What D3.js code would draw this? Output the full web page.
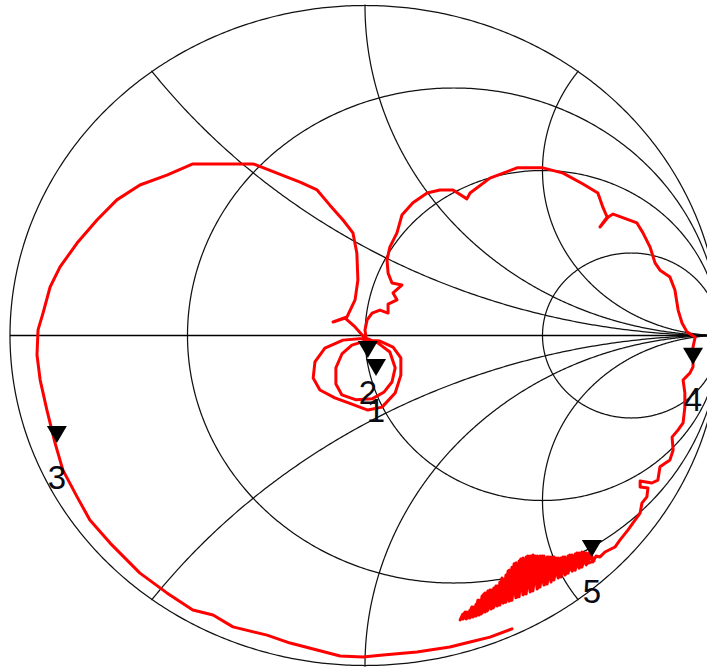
<!DOCTYPE html>
<html>
<head>
<meta charset="utf-8">
<script src="https://cdn.jsdelivr.net/npm/d3@7"></script>
<style>
  html, body { margin: 0; padding: 0; background: #fff; }
  svg { display: block; }
</style>
</head>
<body>
<svg id="chart" width="707" height="668"></svg>
<script>
// Smith chart grid values
const resistanceCircles = [1 / 3, 1, 3];
const reactanceArcs = [0.5, 1, 2, -0.5, -1, -2];

// Measured reflection coefficient trace (real and imaginary parts)
const gammaRe = [
  0.414, 0.352, 0.296, 0.239, 0.146, 0.051, -0.006, -0.070, -0.135, -0.211,
  -0.276, -0.372, -0.428, -0.485, -0.558, -0.634, -0.718, -0.775, -0.811, -0.851,
  -0.873, -0.896, -0.915, -0.924, -0.921, -0.907, -0.887, -0.859, -0.811, -0.755,
  -0.699, -0.634, -0.558, -0.485, -0.315, -0.248, -0.183, -0.135, -0.099, -0.062,
  -0.034, -0.023, -0.020, -0.028, -0.051, -0.090, -0.056, -0.028, 0.000,
  -0.062, -0.113, -0.141, -0.146, -0.127, -0.085, -0.037, 0.008, 0.048, 0.085,
  0.101, 0.101, 0.079, 0.042, 0.008,
  -0.037, -0.065, -0.082, -0.082, -0.065, -0.025, 0.020, 0.054, 0.076, 0.085,
  0.070, 0.037, 0.003,
  0.000, 0.006, 0.020, 0.042, 0.065, 0.065, 0.090, 0.079, 0.104, 0.076,
  0.065, 0.062, 0.070, 0.090, 0.104, 0.135, 0.175, 0.211, 0.248, 0.287,
  0.296, 0.352, 0.428, 0.501, 0.558, 0.614, 0.656, 0.670, 0.682, 0.662,
  0.685, 0.699, 0.766, 0.783, 0.803, 0.817, 0.831, 0.859, 0.873, 0.882,
  0.893, 0.907, 0.930, 0.924, 0.924, 0.915, 0.896, 0.901, 0.901, 0.896,
  0.882, 0.865, 0.868, 0.859, 0.831, 0.825, 0.808, 0.775, 0.775, 0.797,
  0.794, 0.780, 0.775, 0.755, 0.741, 0.718, 0.704, 0.676, 0.662,
  // noisy cluster near marker 5
  0.651, 0.642, 0.631, 0.623, 0.611, 0.603, 0.592, 0.583, 0.572, 0.563,
  0.552, 0.544, 0.532, 0.524, 0.513, 0.504, 0.493, 0.485, 0.473, 0.465,
  0.454, 0.445, 0.434, 0.425, 0.414, 0.406, 0.397, 0.389, 0.380, 0.372,
  0.363, 0.355, 0.346, 0.338, 0.330, 0.321, 0.313, 0.304, 0.296, 0.285,
  0.276, 0.268,
  0.282, 0.290, 0.301, 0.310, 0.318, 0.327, 0.335, 0.344, 0.352, 0.361,
  0.369, 0.377, 0.386, 0.394, 0.403, 0.411, 0.420, 0.428, 0.439, 0.448,
  0.459, 0.468, 0.479, 0.487, 0.499, 0.507, 0.518, 0.527, 0.538, 0.546,
  0.558, 0.566, 0.577, 0.586, 0.597, 0.606, 0.617, 0.625, 0.637, 0.645,
  0.631, 0.623, 0.611, 0.603, 0.592, 0.583, 0.572, 0.563, 0.552, 0.544,
  0.532, 0.524, 0.513, 0.504, 0.493, 0.485, 0.473, 0.465, 0.454, 0.445,
  0.434, 0.425, 0.414, 0.406, 0.397, 0.389, 0.380, 0.372, 0.363, 0.355,
  0.346, 0.338, 0.330, 0.321, 0.313, 0.304, 0.296, 0.287, 0.276
];
const gammaIm = [
  -0.889, -0.914, -0.929, -0.944, -0.959, -0.968, -0.974, -0.971, -0.953, -0.932,
  -0.908, -0.883, -0.847, -0.832, -0.780, -0.720, -0.629, -0.559, -0.489, -0.408,
  -0.326, -0.226, -0.135, -0.059, 0.017, 0.068, 0.147, 0.208, 0.280, 0.350,
  0.411, 0.456, 0.486, 0.520, 0.520, 0.492, 0.465, 0.441, 0.395, 0.350,
  0.311, 0.250, 0.168, 0.108, 0.056, 0.041, 0.053, 0.026, -0.008,
  -0.014, -0.038, -0.080, -0.129, -0.165, -0.189, -0.208, -0.226, -0.217, -0.174,
  -0.120, -0.068, -0.035, -0.017, -0.014,
  -0.029, -0.056, -0.098, -0.147, -0.180, -0.195, -0.192, -0.171, -0.141, -0.098,
  -0.050, -0.023, -0.008,
  0.017, 0.047, 0.068, 0.077, 0.068, 0.095, 0.108, 0.129, 0.153, 0.159,
  0.189, 0.229, 0.268, 0.311, 0.365, 0.402, 0.432, 0.441, 0.441, 0.414,
  0.432, 0.477, 0.508, 0.508, 0.492, 0.459, 0.432, 0.389, 0.359, 0.329,
  0.359, 0.368, 0.341, 0.311, 0.268, 0.220, 0.198, 0.177, 0.138, 0.077,
  0.038, 0.011, -0.005, -0.035, -0.095, -0.114, -0.135, -0.174, -0.217, -0.265,
  -0.286, -0.308, -0.347, -0.377, -0.398, -0.438, -0.447, -0.441, -0.459, -0.462,
  -0.489, -0.508, -0.538, -0.568, -0.589, -0.620, -0.641, -0.656, -0.671,
  // noisy cluster near marker 5
  -0.668, -0.686, -0.659, -0.695, -0.656, -0.705, -0.662, -0.714, -0.668, -0.726,
  -0.674, -0.735, -0.671, -0.747, -0.671, -0.756, -0.668, -0.768, -0.665, -0.777,
  -0.671, -0.786, -0.683, -0.795, -0.702, -0.805, -0.726, -0.811, -0.747, -0.820,
  -0.765, -0.829, -0.774, -0.838, -0.789, -0.847, -0.814, -0.853, -0.832, -0.859,
  -0.844, -0.862,
  -0.838, -0.856, -0.823, -0.850, -0.802, -0.844, -0.783, -0.835, -0.771, -0.826,
  -0.759, -0.817, -0.735, -0.808, -0.714, -0.802, -0.692, -0.792, -0.677, -0.783,
  -0.668, -0.774, -0.668, -0.765, -0.668, -0.753, -0.671, -0.741, -0.674, -0.732,
  -0.671, -0.723, -0.665, -0.711, -0.659, -0.702, -0.659, -0.692, -0.665, -0.683,
  -0.689, -0.659, -0.702, -0.659, -0.711, -0.665, -0.720, -0.671, -0.732, -0.674,
  -0.741, -0.671, -0.753, -0.668, -0.762, -0.668, -0.774, -0.668, -0.783, -0.674,
  -0.792, -0.689, -0.802, -0.711, -0.808, -0.738, -0.817, -0.759, -0.823, -0.771,
  -0.832, -0.780, -0.841, -0.802, -0.850, -0.823, -0.856, -0.838, -0.859
];

// Markers on the trace
const markerLabels = ["1", "2", "3", "4", "5"];
const markerRe = [0.031, 0.008, -0.868, 0.924, 0.639];
const markerIm = [-0.123, -0.068, -0.326, -0.089, -0.671];

const svg = d3.select("#chart");

const x = d3.scaleLinear().domain([-1, 1]).range([10, 720]);
const y = d3.scaleLinear().domain([-1, 1]).range([665.5, 5.5]);

const line = d3.line().x(d => x(d[0])).y(d => y(d[1]));

function circlePoints(cx, cy, r, n) {
  return d3.range(n + 1).map(i => {
    const t = (i / n) * 2 * Math.PI;
    return [cx + r * Math.cos(t), cy + r * Math.sin(t)];
  });
}

// Clip grid arcs to the unit circle
svg.append("defs").append("clipPath").attr("id", "unit")
  .append("ellipse")
  .attr("cx", x(0)).attr("cy", y(0))
  .attr("rx", x(1) - x(0) + 1).attr("ry", y(-1) - y(0) + 1);

const grid = svg.append("g")
  .attr("fill", "none")
  .attr("stroke", "#111")
  .attr("stroke-width", 1.25);

// Outer boundary (r = 0)
grid.append("path").attr("d", line(circlePoints(0, 0, 1, 720)));

const clipped = grid.append("g").attr("clip-path", "url(#unit)");

// Constant resistance circles
clipped.selectAll("path.r")
  .data(resistanceCircles)
  .join("path")
  .attr("class", "r")
  .attr("d", r => line(circlePoints(r / (1 + r), 0, 1 / (1 + r), 600)));

// Constant reactance arcs
clipped.selectAll("path.xa")
  .data(reactanceArcs)
  .join("path")
  .attr("class", "xa")
  .attr("d", xv => line(circlePoints(1, 1 / xv, 1 / Math.abs(xv), 1600)));

// Real axis
grid.append("line")
  .attr("x1", x(-1)).attr("x2", x(1))
  .attr("y1", y(0)).attr("y2", y(0))
  .attr("stroke", "#000").attr("stroke-width", 1.4);

// Trace
const trace = gammaRe.map((re, i) => [re, gammaIm[i]]);
svg.append("path")
  .attr("d", line(trace))
  .attr("fill", "none")
  .attr("stroke", "#ff0000")
  .attr("stroke-width", 3)
  .attr("stroke-linejoin", "round")
  .attr("stroke-linecap", "round");

// Markers
const markers = markerLabels.map((label, i) => ({ label, re: markerRe[i], im: markerIm[i] }));
const mg = svg.append("g").selectAll("g").data(markers).join("g")
  .attr("transform", d => `translate(${x(d.re)},${y(d.im)})`);

mg.append("path")
  .attr("d", "M0,0 L-10,-17 L10,-17 Z")
  .attr("fill", "#000");

mg.append("text")
  .attr("y", 46)
  .attr("text-anchor", "middle")
  .attr("font-family", "Liberation Sans, Arial, sans-serif")
  .attr("font-size", 33)
  .attr("fill", "#0a0a14")
  .text(d => d.label);
</script>
</body>
</html>
